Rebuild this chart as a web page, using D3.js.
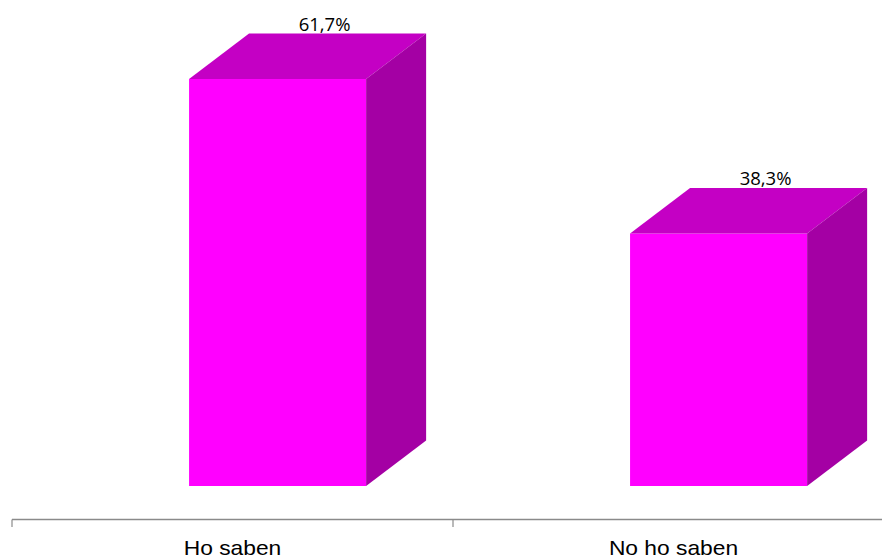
<!DOCTYPE html>
<html><head><meta charset="utf-8">
<script src="https://cdn.jsdelivr.net/npm/d3@7"></script>
<style>html,body{margin:0;padding:0;background:#fff;}svg{display:block;}</style>
</head><body>
<svg id="c" width="882" height="560"></svg>
<script>
const categories = ["Ho saben", "No ho saben"];
const values = [61.7, 38.3];
const valueLabels = ["61,7%", "38,3%"];

const svg = d3.select("#c");
const x = d3.scaleBand().domain(categories).range([12, 894]).padding(0);
const y = d3.scaleLinear().domain([0, 70]).range([486, 24.3]);
const bw = x.bandwidth();
const dx = 60, dy = 45.5;

const g = svg.append("g");
categories.forEach((c, i) => {
  const x0 = x(c) + bw * 0.4015, x1 = x0 + bw * 0.4015;
  const yT = y(values[i]), yB = y(0);
  g.append("polygon").attr("fill", "#FF00FF")
    .attr("points", [[x0,yT],[x1,yT],[x1,yB],[x0,yB]].join(" "));
  g.append("polygon").attr("fill", "#C400C4")
    .attr("points", [[x0,yT],[x0+dx,yT-dy],[x1+dx,yT-dy],[x1,yT]].join(" "));
  g.append("polygon").attr("fill", "#A400A4")
    .attr("points", [[x1,yT],[x1+dx,yT-dy],[x1+dx,yB-dy],[x1,yB]].join(" "));
  g.append("text").attr("x", (x0 + x1) / 2 + 47).attr("y", yT - dy - 3)
    .attr("text-anchor", "middle").attr("font-family", "'Open Sans', sans-serif")
    .attr("font-size", 18.5).attr("fill", "#000").text(valueLabels[i]);
});

// axis
const ax = svg.append("g");
ax.append("line").attr("x1", x.range()[0]).attr("x2", x.range()[1])
  .attr("y1", 519.5).attr("y2", 519.5).attr("stroke", "#8a8a8a").attr("stroke-width", 1.6);
categories.forEach(c => {
  ax.append("line").attr("x1", x(c)).attr("x2", x(c)).attr("y1", 519.5).attr("y2", 527)
    .attr("stroke", "#8a8a8a").attr("stroke-width", 1.2);
  const cx = x(c) + bw / 2;
  ax.append("text").attr("transform", `translate(${cx},555) scale(1.14,1)`)
    .attr("text-anchor", "middle").attr("font-family", "'Liberation Sans', Arial, sans-serif")
    .attr("font-size", 20).attr("fill", "#000").text(c);
});
</script>
</body></html>
